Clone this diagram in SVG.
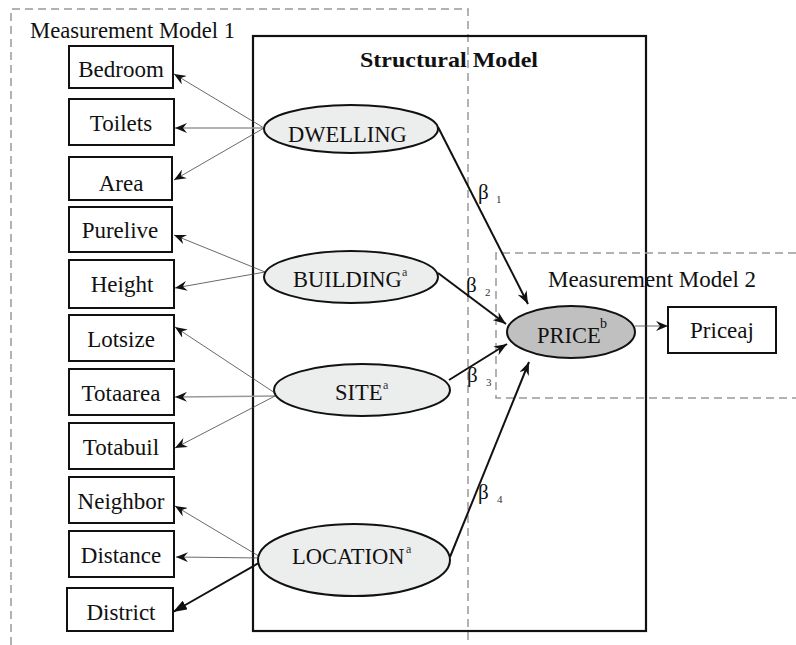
<svg xmlns="http://www.w3.org/2000/svg" width="796" height="645" viewBox="0 0 796 645">
<defs>
<style>
.t{font-family:"Liberation Serif","Times New Roman",serif;font-size:23px;fill:#111;}
.e{font-family:"Liberation Serif","Times New Roman",serif;font-size:22.5px;fill:#111;}
.b{font-family:"Liberation Serif","Times New Roman",serif;font-size:21px;font-weight:bold;fill:#111;}
.sup{font-size:12px;fill:#333;}
.beta{font-family:"Liberation Serif","Times New Roman",serif;font-size:21px;fill:#111;}
.sub{font-size:11px;fill:#333;}
.box{fill:#fff;stroke:#111;stroke-width:2;}
.ell{fill:#eceeed;stroke:#111;stroke-width:2;}
.dash{fill:none;stroke:#999;stroke-width:1.5;stroke-dasharray:8 5;}
.thin{stroke:#444;stroke-width:0.8;fill:none;}
.grey{stroke:#999;stroke-width:1.6;fill:none;}
.thick{stroke:#111;stroke-width:2;fill:none;}
</style>
<marker id="ah" viewBox="0 0 12 10" refX="12" refY="5" markerWidth="12" markerHeight="10" markerUnits="userSpaceOnUse" orient="auto">
<path d="M0,0 L12,5 L0,10 L4,5 z" fill="#111"/>
</marker>
<marker id="ahb" viewBox="0 0 13 10" refX="13" refY="5" markerWidth="13" markerHeight="10" markerUnits="userSpaceOnUse" orient="auto">
<path d="M0,0 L13,5 L0,10 L4,5 z" fill="#111"/>
</marker>
<marker id="tri" viewBox="0 0 14 10" refX="14" refY="5" markerWidth="14" markerHeight="10" markerUnits="userSpaceOnUse" orient="auto">
<path d="M0,0 L14,5 L0,10 z" fill="#111"/>
</marker>
</defs>
<rect width="796" height="645" fill="#fff"/>

<g id="frames">
<path class="dash" d="M11,645 V9 H468 V645"/>
<rect x="253" y="36" width="393" height="595" fill="none" stroke="#111" stroke-width="2.2"/>
<path class="dash" d="M796,253 H496 V398 H796"/>
<text class="t" x="30" y="38" textLength="205" lengthAdjust="spacingAndGlyphs">Measurement Model 1</text>
<text class="b" x="360" y="67" textLength="178" lengthAdjust="spacingAndGlyphs">Structural  Model</text>
<text class="t" x="548" y="287" textLength="208" lengthAdjust="spacingAndGlyphs">Measurement Model 2</text>
</g>

<g id="connectors">
<line class="thin" x1="264" y1="128" x2="174" y2="74" marker-end="url(#ah)"/>
<line class="grey" x1="264" y1="128" x2="175" y2="128" marker-end="url(#ah)"/>
<line class="thin" x1="264" y1="128" x2="174" y2="180" marker-end="url(#ah)"/>
<line class="thin" x1="265" y1="272" x2="174" y2="235" marker-end="url(#ah)"/>
<line class="thin" x1="265" y1="272" x2="175" y2="288" marker-end="url(#ah)"/>
<line class="thin" x1="275" y1="393" x2="175" y2="327" marker-end="url(#ah)"/>
<line class="grey" x1="275" y1="396" x2="175" y2="397" marker-end="url(#ah)"/>
<line class="thin" x1="275" y1="396" x2="175" y2="448" marker-end="url(#ah)"/>
<line class="thin" x1="262" y1="558" x2="175" y2="506" marker-end="url(#ah)"/>
<line class="thin" x1="262" y1="558" x2="176" y2="557" marker-end="url(#ah)"/>
<line class="thick" x1="264" y1="560" x2="173" y2="612" marker-end="url(#tri)"/>
<line class="thick" x1="438" y1="127" x2="528" y2="304" marker-end="url(#ahb)"/>
<line class="thick" x1="438" y1="273" x2="506" y2="324" marker-end="url(#ahb)"/>
<line class="thick" x1="449" y1="380" x2="507" y2="344" marker-end="url(#ahb)"/>
<line class="thick" x1="450" y1="557" x2="529" y2="362" marker-end="url(#ahb)"/>
<line class="thin" x1="635" y1="326" x2="668" y2="326" marker-end="url(#ah)"/>
<text class="beta" x="478" y="199">β<tspan class="sub" x="496" y="203">1</tspan></text>
<text class="beta" x="466" y="292">β<tspan class="sub" x="485" y="296">2</tspan></text>
<text class="beta" x="467" y="382">β<tspan class="sub" x="486" y="386">3</tspan></text>
<text class="beta" x="478" y="499">β<tspan class="sub" x="497" y="503">4</tspan></text>
</g>

<g id="n-bedroom"><rect class="box" x="69" y="46" width="104" height="42"/><text class="t" x="121" y="77" text-anchor="middle">Bedroom</text></g>
<g id="n-toilets"><rect class="box" x="69" y="99" width="105" height="46"/><text class="t" x="121" y="131" text-anchor="middle">Toilets</text></g>
<g id="n-area"><rect class="box" x="69" y="157" width="103" height="43"/><text class="t" x="121" y="191" text-anchor="middle">Area</text></g>
<g id="n-purelive"><rect class="box" x="69" y="207" width="103" height="45"/><text class="t" x="120" y="238" text-anchor="middle">Purelive</text></g>
<g id="n-height"><rect class="box" x="69" y="260" width="105" height="48"/><text class="t" x="122" y="292" text-anchor="middle">Height</text></g>
<g id="n-lotsize"><rect class="box" x="69" y="315" width="105" height="46"/><text class="t" x="121" y="347" text-anchor="middle">Lotsize</text></g>
<g id="n-totaarea"><rect class="box" x="69" y="369" width="105" height="46"/><text class="t" x="121" y="401" text-anchor="middle">Totaarea</text></g>
<g id="n-totabuil"><rect class="box" x="69" y="423" width="105" height="46"/><text class="t" x="121" y="455" text-anchor="middle">Totabuil</text></g>
<g id="n-neighbor"><rect class="box" x="69" y="477" width="105" height="46"/><text class="t" x="121" y="509" text-anchor="middle">Neighbor</text></g>
<g id="n-distance"><rect class="box" x="69" y="531" width="105" height="46"/><text class="t" x="121" y="563" text-anchor="middle">Distance</text></g>
<g id="n-district"><rect class="box" x="67" y="588" width="106" height="43"/><text class="t" x="121" y="620" text-anchor="middle">District</text></g>
<g id="n-priceaj"><rect class="box" x="668" y="307" width="108" height="46"/><text class="t" x="722" y="338" text-anchor="middle">Priceaj</text></g>

<g id="n-dwelling"><ellipse class="ell" cx="351" cy="129" rx="87" ry="24"/><text class="e" x="288" y="142">DWELLING</text></g>
<g id="n-building"><ellipse class="ell" cx="351" cy="277" rx="87" ry="26"/><text class="e" x="293" y="287">BUILDING<tspan class="sup" x="402" y="276">a</tspan></text></g>
<g id="n-site"><ellipse class="ell" cx="362" cy="390" rx="88" ry="26"/><text class="e" x="335" y="400">SITE<tspan class="sup" x="383" y="389">a</tspan></text></g>
<g id="n-location"><ellipse class="ell" cx="354" cy="560" rx="96" ry="36"/><text class="e" x="292" y="564">LOCATION<tspan class="sup" x="406" y="553">a</tspan></text></g>
<g id="n-price"><ellipse cx="571" cy="332" rx="64" ry="26" fill="#c0c0c0" stroke="#111" stroke-width="2"/><text class="e" x="537" y="343">PRICE<tspan class="sup" x="600" y="328" style="font-size:14px;fill:#111">b</tspan></text></g>
</svg>
